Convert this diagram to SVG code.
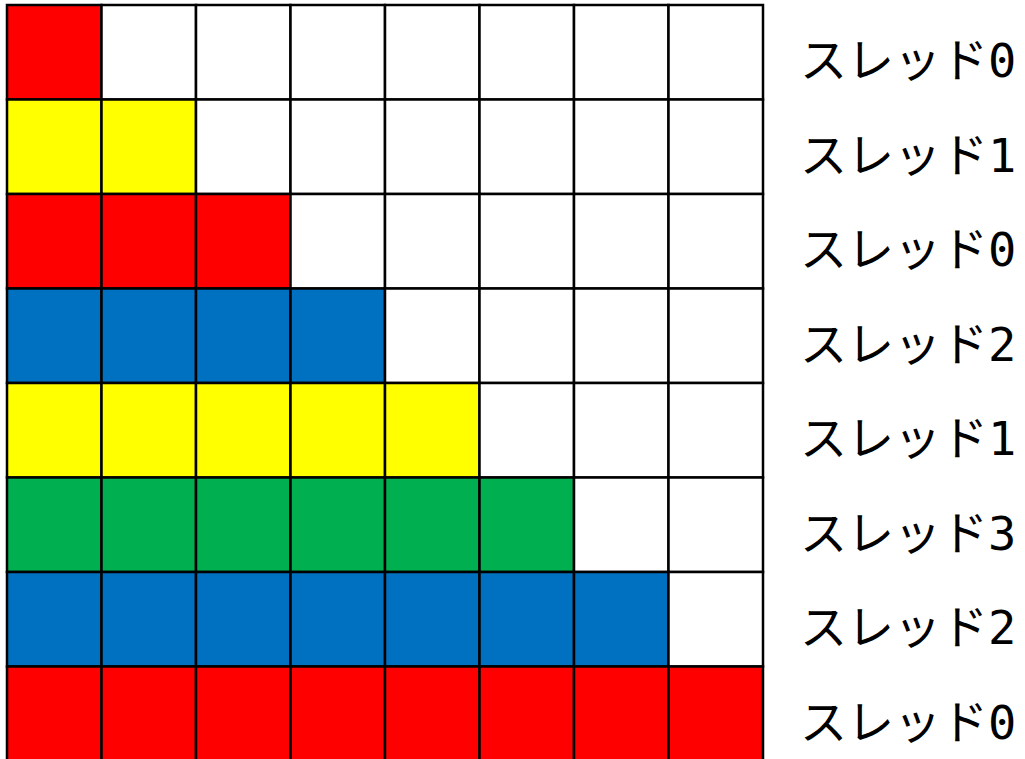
<svg xmlns="http://www.w3.org/2000/svg" width="1025" height="759" viewBox="0 0 1025 759">
<style>
.c{stroke:#000;stroke-width:2.5}
.r{fill:#FF0000}.y{fill:#FFFF00}.b{fill:#0070C0}.g{fill:#00B050}.w{fill:#FFFFFF}
.t{font-family:"DejaVu Sans Mono","Noto Sans CJK JP",monospace;font-size:47px;fill:#000}
</style>
<rect width="1025" height="759" fill="#fff"/>
<g id="row0">
<rect class="c r" x="7" y="5" width="94.5" height="94.5"/>
<rect class="c w" x="101.5" y="5" width="94.5" height="94.5"/><rect class="c w" x="196" y="5" width="94.5" height="94.5"/><rect class="c w" x="290.5" y="5" width="94.5" height="94.5"/><rect class="c w" x="385" y="5" width="94.5" height="94.5"/><rect class="c w" x="479.5" y="5" width="94.5" height="94.5"/><rect class="c w" x="574" y="5" width="94.5" height="94.5"/><rect class="c w" x="668.5" y="5" width="94.5" height="94.5"/>
<text class="t" x="800" y="77">スレッド0</text>
</g>
<g id="row1">
<rect class="c y" x="7" y="99.5" width="94.5" height="94.5"/><rect class="c y" x="101.5" y="99.5" width="94.5" height="94.5"/>
<rect class="c w" x="196" y="99.5" width="94.5" height="94.5"/><rect class="c w" x="290.5" y="99.5" width="94.5" height="94.5"/><rect class="c w" x="385" y="99.5" width="94.5" height="94.5"/><rect class="c w" x="479.5" y="99.5" width="94.5" height="94.5"/><rect class="c w" x="574" y="99.5" width="94.5" height="94.5"/><rect class="c w" x="668.5" y="99.5" width="94.5" height="94.5"/>
<text class="t" x="800" y="171.5">スレッド1</text>
</g>
<g id="row2">
<rect class="c r" x="7" y="194" width="94.5" height="94.5"/><rect class="c r" x="101.5" y="194" width="94.5" height="94.5"/><rect class="c r" x="196" y="194" width="94.5" height="94.5"/>
<rect class="c w" x="290.5" y="194" width="94.5" height="94.5"/><rect class="c w" x="385" y="194" width="94.5" height="94.5"/><rect class="c w" x="479.5" y="194" width="94.5" height="94.5"/><rect class="c w" x="574" y="194" width="94.5" height="94.5"/><rect class="c w" x="668.5" y="194" width="94.5" height="94.5"/>
<text class="t" x="800" y="266">スレッド0</text>
</g>
<g id="row3">
<rect class="c b" x="7" y="288.5" width="94.5" height="94.5"/><rect class="c b" x="101.5" y="288.5" width="94.5" height="94.5"/><rect class="c b" x="196" y="288.5" width="94.5" height="94.5"/><rect class="c b" x="290.5" y="288.5" width="94.5" height="94.5"/>
<rect class="c w" x="385" y="288.5" width="94.5" height="94.5"/><rect class="c w" x="479.5" y="288.5" width="94.5" height="94.5"/><rect class="c w" x="574" y="288.5" width="94.5" height="94.5"/><rect class="c w" x="668.5" y="288.5" width="94.5" height="94.5"/>
<text class="t" x="800" y="360.5">スレッド2</text>
</g>
<g id="row4">
<rect class="c y" x="7" y="383" width="94.5" height="94.5"/><rect class="c y" x="101.5" y="383" width="94.5" height="94.5"/><rect class="c y" x="196" y="383" width="94.5" height="94.5"/><rect class="c y" x="290.5" y="383" width="94.5" height="94.5"/><rect class="c y" x="385" y="383" width="94.5" height="94.5"/>
<rect class="c w" x="479.5" y="383" width="94.5" height="94.5"/><rect class="c w" x="574" y="383" width="94.5" height="94.5"/><rect class="c w" x="668.5" y="383" width="94.5" height="94.5"/>
<text class="t" x="800" y="455">スレッド1</text>
</g>
<g id="row5">
<rect class="c g" x="7" y="477.5" width="94.5" height="94.5"/><rect class="c g" x="101.5" y="477.5" width="94.5" height="94.5"/><rect class="c g" x="196" y="477.5" width="94.5" height="94.5"/><rect class="c g" x="290.5" y="477.5" width="94.5" height="94.5"/><rect class="c g" x="385" y="477.5" width="94.5" height="94.5"/><rect class="c g" x="479.5" y="477.5" width="94.5" height="94.5"/>
<rect class="c w" x="574" y="477.5" width="94.5" height="94.5"/><rect class="c w" x="668.5" y="477.5" width="94.5" height="94.5"/>
<text class="t" x="800" y="549.5">スレッド3</text>
</g>
<g id="row6">
<rect class="c b" x="7" y="572" width="94.5" height="94.5"/><rect class="c b" x="101.5" y="572" width="94.5" height="94.5"/><rect class="c b" x="196" y="572" width="94.5" height="94.5"/><rect class="c b" x="290.5" y="572" width="94.5" height="94.5"/><rect class="c b" x="385" y="572" width="94.5" height="94.5"/><rect class="c b" x="479.5" y="572" width="94.5" height="94.5"/><rect class="c b" x="574" y="572" width="94.5" height="94.5"/>
<rect class="c w" x="668.5" y="572" width="94.5" height="94.5"/>
<text class="t" x="800" y="644">スレッド2</text>
</g>
<g id="row7">
<rect class="c r" x="7" y="666.5" width="94.5" height="94.5"/><rect class="c r" x="101.5" y="666.5" width="94.5" height="94.5"/><rect class="c r" x="196" y="666.5" width="94.5" height="94.5"/><rect class="c r" x="290.5" y="666.5" width="94.5" height="94.5"/><rect class="c r" x="385" y="666.5" width="94.5" height="94.5"/><rect class="c r" x="479.5" y="666.5" width="94.5" height="94.5"/><rect class="c r" x="574" y="666.5" width="94.5" height="94.5"/><rect class="c r" x="668.5" y="666.5" width="94.5" height="94.5"/>
<text class="t" x="800" y="738.5">スレッド0</text>
</g>
<g id="connectors"/>
</svg>
